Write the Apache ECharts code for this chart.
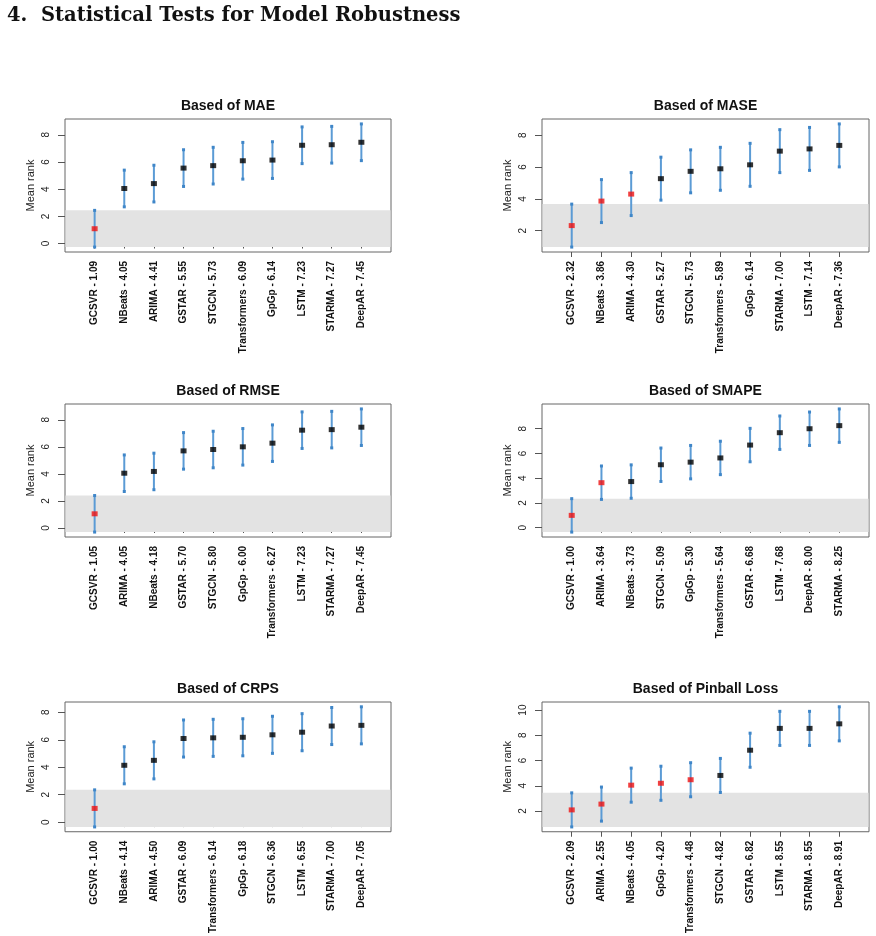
<!DOCTYPE html>
<html>
<head>
<meta charset="utf-8">
<title>Statistical Tests for Model Robustness</title>
<script src="https://cdn.jsdelivr.net/npm/echarts@6/dist/echarts.min.js"></script>
<style>
  html, body { margin: 0; padding: 0; background: #fff; }
  #chart { width: 876px; height: 936px; }
</style>
</head>
<body>
<div id="chart"></div>
<script>
  // mean ranks per metric, in the order they are drawn (best first)
  const maeModels = ["GCSVR", "NBeats", "ARIMA", "GSTAR", "STGCN", "Transformers", "GpGp", "LSTM", "STARMA", "DeepAR"];
  const maeRanks = [1.09, 4.05, 4.41, 5.55, 5.73, 6.09, 6.14, 7.23, 7.27, 7.45];

  const maseModels = ["GCSVR", "NBeats", "ARIMA", "GSTAR", "STGCN", "Transformers", "GpGp", "STARMA", "LSTM", "DeepAR"];
  const maseRanks = [2.32, 3.86, 4.30, 5.27, 5.73, 5.89, 6.14, 7.00, 7.14, 7.36];

  const rmseModels = ["GCSVR", "ARIMA", "NBeats", "GSTAR", "STGCN", "GpGp", "Transformers", "LSTM", "STARMA", "DeepAR"];
  const rmseRanks = [1.05, 4.05, 4.18, 5.70, 5.80, 6.00, 6.27, 7.23, 7.27, 7.45];

  const smapeModels = ["GCSVR", "ARIMA", "NBeats", "STGCN", "GpGp", "Transformers", "GSTAR", "LSTM", "DeepAR", "STARMA"];
  const smapeRanks = [1.00, 3.64, 3.73, 5.09, 5.30, 5.64, 6.68, 7.68, 8.00, 8.25];

  const crpsModels = ["GCSVR", "NBeats", "ARIMA", "GSTAR", "Transformers", "GpGp", "STGCN", "LSTM", "STARMA", "DeepAR"];
  const crpsRanks = [1.00, 4.14, 4.50, 6.09, 6.14, 6.18, 6.36, 6.55, 7.00, 7.05];

  const pinballModels = ["GCSVR", "ARIMA", "NBeats", "GpGp", "Transformers", "STGCN", "GSTAR", "LSTM", "STARMA", "DeepAR"];
  const pinballRanks = [2.09, 2.55, 4.05, 4.20, 4.48, 4.82, 6.82, 8.55, 8.55, 8.91];

  // half of the critical distance (length of each whisker)
  const halfCD = 1.35;

  // y tick labels
  const maeTicks = [0, 2, 4, 6, 8];
  const maseTicks = [2, 4, 6, 8];
  const rmseTicks = [0, 2, 4, 6, 8];
  const smapeTicks = [0, 2, 4, 6, 8];
  const crpsTicks = [0, 2, 4, 6, 8];
  const pinballTicks = [2, 4, 6, 8, 10];

  const font = "Liberation Sans, Arial, sans-serif";

  const panels = [
    { title: "Based of MAE", models: maeModels, ranks: maeRanks, ticks: maeTicks, left: 65, top: 119, width: 326, height: 133 },
    { title: "Based of MASE", models: maseModels, ranks: maseRanks, ticks: maseTicks, left: 542, top: 119, width: 327, height: 133 },
    { title: "Based of RMSE", models: rmseModels, ranks: rmseRanks, ticks: rmseTicks, left: 65, top: 404, width: 326, height: 133 },
    { title: "Based of SMAPE", models: smapeModels, ranks: smapeRanks, ticks: smapeTicks, left: 542, top: 404, width: 327, height: 133 },
    { title: "Based of CRPS", models: crpsModels, ranks: crpsRanks, ticks: crpsTicks, left: 65, top: 702, width: 326, height: 132 },
    { title: "Based of Pinball Loss", models: pinballModels, ranks: pinballRanks, ticks: pinballTicks, left: 542, top: 702, width: 327, height: 132 }
  ];

  const option = {
    animation: false,
    title: [{
      text: "4.  Statistical Tests for Model Robustness",
      left: 7,
      top: 6,
      padding: 0,
      textStyle: { fontFamily: "DejaVu Serif", fontWeight: "bold", fontSize: 19.5, color: "#111" }
    }],
    grid: [],
    xAxis: [],
    yAxis: [],
    series: []
  };

  panels.forEach((p, i) => {
    const best = Math.min(...p.ranks);
    const lo = best - halfCD;
    const hi = Math.max(...p.ranks) + halfCD;
    const pad = 0.04 * (hi - lo);
    const pos = p.ranks.map((r, k) => k + 1);

    option.title.push({
      text: p.title,
      left: p.left + p.width / 2,
      top: p.top - 20,
      textAlign: "center",
      padding: 0,
      textStyle: { fontFamily: font, fontWeight: "bold", fontSize: 14, color: "#111" }
    });

    option.grid.push({
      left: p.left, top: p.top, width: p.width, height: p.height,
      show: true, borderColor: "#666", borderWidth: 1, backgroundColor: "rgba(0,0,0,0)"
    });

    option.xAxis.push({
      gridIndex: i,
      type: "value",
      min: 0,
      max: p.ranks.length + 1,
      axisLine: { show: false },
      splitLine: { show: false },
      axisTick: { show: true, customValues: pos, length: 5, lineStyle: { color: "#555" } },
      axisLabel: {
        customValues: pos,
        rotate: 90,
        margin: 9,
        fontSize: 10,
        fontWeight: "bold",
        fontFamily: font,
        color: "#111",
        formatter: (v) => p.models[v - 1] + " - " + p.ranks[v - 1].toFixed(2)
      }
    });

    option.yAxis.push({
      gridIndex: i,
      type: "value",
      min: lo - pad,
      max: hi + pad,
      name: "Mean rank",
      nameLocation: "middle",
      nameGap: 29,
      nameRotate: 90,
      nameTextStyle: { fontSize: 11, fontFamily: font, color: "#222" },
      axisLine: { show: false },
      splitLine: { show: false },
      axisTick: { show: true, customValues: p.ticks, length: 7, lineStyle: { color: "#555" } },
      axisLabel: { customValues: p.ticks, rotate: 90, margin: 14, fontSize: 10, fontFamily: font, color: "#222" }
    });

    // grey band: best model's interval
    option.series.push({
      type: "custom",
      xAxisIndex: i,
      yAxisIndex: i,
      silent: true,
      z: 1,
      data: [[best - halfCD, best + halfCD]],
      renderItem: (params, api) => {
        const a = api.coord([0, api.value(0)]);
        const b = api.coord([p.ranks.length + 1, api.value(1)]);
        return {
          type: "rect",
          shape: { x: a[0] + 0.5, y: b[1], width: b[0] - a[0] - 1, height: a[1] - b[1] },
          style: { fill: "#e3e3e3" }
        };
      }
    });

    // whiskers
    option.series.push({
      type: "custom",
      xAxisIndex: i,
      yAxisIndex: i,
      silent: true,
      z: 2,
      encode: { x: 0, y: [1, 2] },
      data: p.ranks.map((r, k) => [k + 1, r - halfCD, r + halfCD]),
      renderItem: (params, api) => {
        const t = api.coord([api.value(0), api.value(2)]);
        const b = api.coord([api.value(0), api.value(1)]);
        return {
          type: "group",
          children: [
            { type: "line", shape: { x1: t[0], y1: t[1], x2: b[0], y2: b[1] }, style: { stroke: "#5b9bd5", lineWidth: 2 } },
            { type: "rect", shape: { x: t[0] - 1.5, y: t[1] - 1.5, width: 3, height: 3 }, style: { fill: "#3f86c8" } },
            { type: "rect", shape: { x: b[0] - 1.5, y: b[1] - 1.5, width: 3, height: 3 }, style: { fill: "#3f86c8" } }
          ]
        };
      }
    });

    // mean ranks
    option.series.push({
      type: "scatter",
      xAxisIndex: i,
      yAxisIndex: i,
      silent: true,
      z: 3,
      symbol: "rect",
      symbolSize: [6, 5],
      data: p.ranks.map((r, k) => [k + 1, r]),
      itemStyle: {
        color: (d) => (d.value[1] - best < 2 * halfCD ? "#ee1111" : "#000")
      }
    });
  });

  const chart = echarts.init(document.getElementById("chart"));
  chart.setOption(option);
</script>
</body>
</html>
